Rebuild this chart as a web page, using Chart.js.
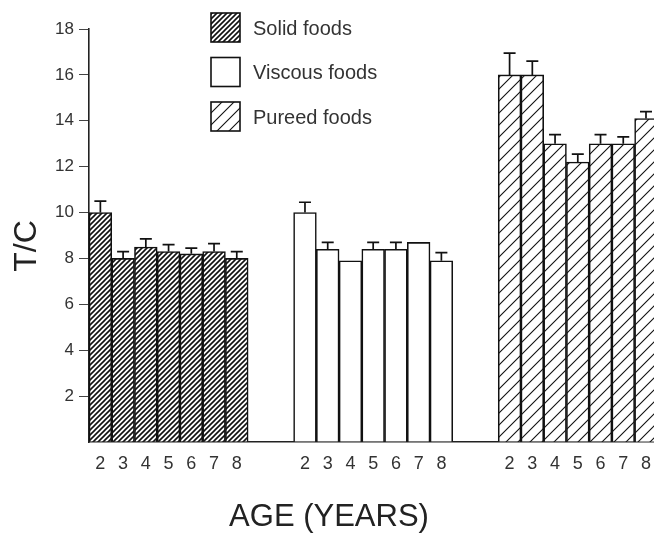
<!DOCTYPE html>
<html lang="en">
<head>
  <meta charset="UTF-8" />
  <title>T/C by age and food type</title>
  <script src="https://cdn.jsdelivr.net/npm/chart.js"></script>
  <style>
    html, body { margin: 0; padding: 0; background: white; overflow: hidden; }
    #wrap { width: 662px; height: 533px; }
  </style>
</head>
<body>
  <div id="wrap"><canvas id="tcChart"></canvas></div>

  <script>
    const ages = ['2', '3', '4', '5', '6', '7', '8'];
    const gap = ['', ''];
    const labels = [...ages, ...gap, ...ages, ...gap, ...ages];

    const solidFoods   = [10, 8.0, 8.5, 8.3, 8.2, 8.3, 8.0];
    const solidErr     = [0.5, 0.3, 0.35, 0.3, 0.25, 0.35, 0.3];
    const viscousFoods = [10, 8.4, 7.9, 8.4, 8.4, 8.7, 7.9];
    const viscousErr   = [0.45, 0.3, 0, 0.3, 0.3, 0, 0.35];
    const pureedFoods  = [16, 16, 13, 12.2, 13, 13, 14.1];
    const pureedErr    = [0.95, 0.6, 0.4, 0.35, 0.4, 0.3, 0.3];

    const xTitle = 'AGE (YEARS)';
    const yTitle = 'T/C';
    const FONT = '"Liberation Sans", Arial, sans-serif';

    const blank = new Array(7).fill(null);
    const pad = [null, null];

    // diagonal hatch pattern
    function hatch(step, lw) {
      const c = document.createElement('canvas');
      c.width = c.height = step;
      const g = c.getContext('2d');
      g.fillStyle = '#fff';
      g.fillRect(0, 0, step, step);
      g.strokeStyle = '#111';
      g.lineWidth = lw;
      g.beginPath();
      g.moveTo(-1, step + 1); g.lineTo(step + 1, -1);
      g.moveTo(-2, 2); g.lineTo(2, -2);
      g.moveTo(step - 2, step + 2); g.lineTo(step + 2, step - 2);
      g.stroke();
      return g.createPattern(c, 'repeat');
    }

    const solidFill = hatch(5, 1.6);
    const pureedFill = hatch(12, 1.1);

    const errorBars = {
      id: 'errorBars',
      afterDatasetsDraw(chart) {
        const ctx = chart.ctx, y = chart.scales.y;
        ctx.save();
        ctx.strokeStyle = '#111';
        ctx.lineWidth = 1.7;
        chart.data.datasets.forEach((ds, i) => {
          chart.getDatasetMeta(i).data.forEach((bar, j) => {
            const v = ds.data[j], e = ds.errors[j];
            if (v == null || !e) return;
            const top = y.getPixelForValue(v + e);
            ctx.beginPath();
            ctx.moveTo(bar.x, bar.y);
            ctx.lineTo(bar.x, top);
            ctx.moveTo(bar.x - 6, top);
            ctx.lineTo(bar.x + 6, top);
            ctx.stroke();
          });
        });
        ctx.restore();
      }
    };

    // legend boxes + axis titles
    const extras = {
      id: 'extras',
      afterDraw(chart) {
        const ctx = chart.ctx;
        ctx.save();
        chart.data.datasets.forEach((ds, i) => {
          const bx = 211, by = 13 + i * 44.5;
          ctx.fillStyle = ds.backgroundColor;
          ctx.fillRect(bx, by, 29, 29);
          ctx.strokeStyle = '#111';
          ctx.lineWidth = 1.6;
          ctx.strokeRect(bx, by, 29, 29);
          ctx.fillStyle = '#333';
          ctx.font = '20px ' + FONT;
          ctx.textBaseline = 'middle';
          ctx.fillText(ds.label, 253, by + 16);
        });
        ctx.fillStyle = '#222';
        ctx.font = '31px ' + FONT;
        ctx.textAlign = 'center';
        ctx.textBaseline = 'alphabetic';
        ctx.fillText(xTitle, 329, 526);
        ctx.font = '32px ' + FONT;
        ctx.textBaseline = 'middle';
        ctx.translate(27, 246);
        ctx.rotate(-Math.PI / 2);
        ctx.fillText(yTitle, 0, 0);
        ctx.restore();
      }
    };

    const common = { borderColor: '#111', borderWidth: 1.6, grouped: false, barPercentage: 1, categoryPercentage: 1 };

    new Chart(document.getElementById('tcChart'), {
      type: 'bar',
      data: {
        labels: labels,
        datasets: [
          { ...common, label: 'Solid foods', data: [...solidFoods, ...pad, ...blank, ...pad, ...blank],
            errors: [...solidErr, ...pad, ...blank, ...pad, ...blank], backgroundColor: solidFill },
          { ...common, label: 'Viscous foods', data: [...blank, ...pad, ...viscousFoods, ...pad, ...blank],
            errors: [...blank, ...pad, ...viscousErr, ...pad, ...blank], backgroundColor: '#ffffff' },
          { ...common, label: 'Pureed foods', data: [...blank, ...pad, ...blank, ...pad, ...pureedFoods],
            errors: [...blank, ...pad, ...blank, ...pad, ...pureedErr], backgroundColor: pureedFill }
        ]
      },
      options: {
        responsive: true,
        maintainAspectRatio: false,
        animation: false,
        layout: { padding: { top: 29, right: 0, bottom: 0, left: 10 } },
        plugins: { legend: { display: false }, tooltip: { enabled: false } },
        scales: {
          x: {
            grid: { display: false, drawTicks: false },
            border: { color: '#222', width: 1.6 },
            ticks: { color: '#333', autoSkip: false, maxRotation: 0, padding: 11,
                     font: { family: 'Liberation Sans', size: 18 } },
            afterFit: s => { s.height = 91; }
          },
          y: {
            min: 0, max: 18,
            grid: { drawOnChartArea: false, drawTicks: true, tickLength: 10,
                    color: c => (c.tick && c.tick.value === 0) ? 'rgba(0,0,0,0)' : '#444' },
            border: { color: '#222', width: 1.6 },
            ticks: { stepSize: 2, color: '#333', padding: 5,
                     font: { family: 'Liberation Sans', size: 17 },
                     callback: v => v === 0 ? '' : v },
            afterFit: s => { s.width = 79; }
          }
        }
      },
      plugins: [errorBars, extras]
    });
  </script>
</body>
</html>
